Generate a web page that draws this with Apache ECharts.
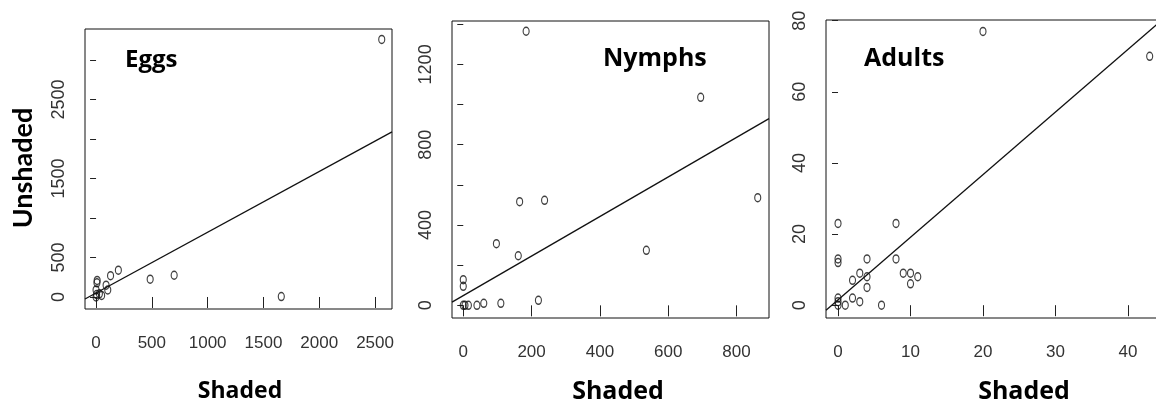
<!DOCTYPE html>
<html>
<head>
<meta charset="utf-8">
<script src="https://cdn.jsdelivr.net/npm/echarts@6/dist/echarts.min.js"></script>
<style>
  html, body { margin: 0; padding: 0; background: #fff; overflow: hidden; width: 1156px; height: 407px; }
  #c { width: 1170px; height: 407px; }
</style>
</head>
<body>
<div id="c"></div>
<script>
// Insect counts per site: shaded (x) vs unshaded (y) plots, with least-squares fit lines.
const eggs = [[0,0],[5,30],[10,210],[8,180],[0,90],[30,40],[50,20],[90,150],[105,90],[130,270],[200,340],[485,225],[700,275],[1660,5],[2560,3260]];
const nymphs = [[0,0],[5,0],[15,0],[40,0],[60,10],[110,10],[220,25],[0,95],[0,128],[97,307],[161,247],[165,516],[238,523],[184,1365],[536,274],[695,1036],[862,536]];
const adults = [[0,0],[0,1],[0,2],[1,0],[2,2],[3,1],[6,0],[2,7],[3,9],[4,8],[4,5],[4,13],[0,12],[0,13],[0,23],[8,23],[8,13],[9,9],[10,9],[10,6],[11,8],[20,77],[43,70]];

// Fit line end points (across the full plotted x range)
const eggsFit = [[-99,-26],[2652,2089]];
const nymphsFit = [[-33,16],[895,930]];
const adultsFit = [[-1.66,-1.4],[44.7,80.2]];

// Axis ranges
const eggsX = [-99, 2652], eggsY = [-152, 3392];
const nymphsX = [-33, 895], nymphsY = [-63, 1416];
const adultsX = [-1.66, 44.7], adultsY = [-3.6, 80.2];

// Tick positions and labelled ticks
const eggsXTicks = [0,500,1000,1500,2000,2500];
const eggsYTicks = [0,500,1000,1500,2000,2500,3000];
const eggsYLabels = [0,500,1500,2500];
const nymphsXTicks = [0,200,400,600,800];
const nymphsYTicks = [0,200,400,600,800,1000,1200,1400];
const nymphsYLabels = [0,400,800,1200];
const adultsXTicks = [0,10,20,30,40];
const adultsYTicks = [0,20,40,60,80];

const panelTitles = ['Eggs', 'Nymphs', 'Adults'];
const xName = 'Shaded';
const yName = 'Unshaded';

const ellipse = 'path://M5,0 A5,7 0 1,1 5,14 A5,7 0 1,1 5,0 Z';
const tickColor = '#333';
const plain = function (v) { return String(v); };

function xAxis(idx, range, ticks) {
  return {
    type: 'value', gridIndex: idx, min: range[0], max: range[1],
    axisLine: { show: false },
    splitLine: { show: false },
    axisTick: { show: true, length: 11, customValues: ticks, lineStyle: { color: '#222', width: 1 } },
    axisLabel: {
      customValues: ticks, margin: 26, color: tickColor, formatter: plain,
      fontFamily: '"Liberation Sans", Arial, sans-serif',
      fontSize: 17
    }
  };
}
function yAxis(idx, range, ticks, labels) {
  return {
    type: 'value', gridIndex: idx, min: range[0], max: range[1],
    axisLine: { show: false },
    splitLine: { show: false },
    axisTick: { show: true, length: 6, customValues: ticks, lineStyle: { color: '#222', width: 1 } },
    axisLabel: {
      customValues: labels, margin: 17, rotate: 90, color: tickColor, formatter: plain,
      fontFamily: '"Liberation Sans", Arial, sans-serif', fontSize: 18
    }
  };
}
function scatter(idx, data) {
  return {
    type: 'scatter', xAxisIndex: idx, yAxisIndex: idx, data: data,
    symbol: ellipse, symbolSize: [6, 8],
    itemStyle: { color: 'rgba(0,0,0,0)', borderColor: '#111', borderWidth: 1.3 },
    silent: true, animation: false
  };
}
function fit(idx, data) {
  return {
    type: 'line', xAxisIndex: idx, yAxisIndex: idx, data: data,
    symbol: 'none', clip: true,
    lineStyle: { color: '#111', width: 1.3 },
    silent: true, animation: false
  };
}

const boldTitle = { fontFamily: '"Open Sans", sans-serif', fontWeight: 'bold', fill: '#000' };

const option = {
  backgroundColor: '#fff',
  animation: false,
  grid: [
    { left: 85, top: 29, width: 307, height: 280, show: true, borderColor: '#111', borderWidth: 1, backgroundColor: 'transparent' },
    { left: 452, top: 21, width: 317, height: 297, show: true, borderColor: '#111', borderWidth: 1, backgroundColor: 'transparent' },
    { left: 826, top: 20, width: 336, height: 298, show: true, borderColor: '#111', borderWidth: 1, backgroundColor: 'transparent' }
  ],
  xAxis: [
    xAxis(0, eggsX, eggsXTicks),
    xAxis(1, nymphsX, nymphsXTicks),
    xAxis(2, adultsX, adultsXTicks)
  ],
  yAxis: [
    yAxis(0, eggsY, eggsYTicks, eggsYLabels),
    yAxis(1, nymphsY, nymphsYTicks, nymphsYLabels),
    yAxis(2, adultsY, adultsYTicks, adultsYTicks)
  ],
  series: [
    scatter(0, eggs), fit(0, eggsFit),
    scatter(1, nymphs), fit(1, nymphsFit),
    scatter(2, adults), fit(2, adultsFit)
  ],
  graphic: [
    { type: 'text', x: 125, y: 60, style: Object.assign({ text: panelTitles[0], fontSize: 24, verticalAlign: 'middle' }, boldTitle) },
    { type: 'text', x: 603, y: 59, style: Object.assign({ text: panelTitles[1], fontSize: 25, verticalAlign: 'middle' }, boldTitle) },
    { type: 'text', x: 864, y: 59, style: Object.assign({ text: panelTitles[2], fontSize: 25, verticalAlign: 'middle' }, boldTitle) },
    { type: 'text', x: 240, y: 391, style: Object.assign({ text: xName, fontSize: 23, align: 'center', verticalAlign: 'middle' }, boldTitle) },
    { type: 'text', x: 618, y: 392, style: Object.assign({ text: xName, fontSize: 25, align: 'center', verticalAlign: 'middle' }, boldTitle) },
    { type: 'text', x: 1024, y: 392, style: Object.assign({ text: xName, fontSize: 25, align: 'center', verticalAlign: 'middle' }, boldTitle) },
    { type: 'text', x: 23, y: 168, rotation: Math.PI / 2,
      style: { text: yName, fontSize: 27, fontFamily: 'Lato, "Open Sans", sans-serif', fontWeight: 'bold', fill: '#000', align: 'center', verticalAlign: 'middle' } }
  ]
};

const chart = echarts.init(document.getElementById('c'), null, { renderer: 'canvas' });
chart.setOption(option);
</script>
</body>
</html>
